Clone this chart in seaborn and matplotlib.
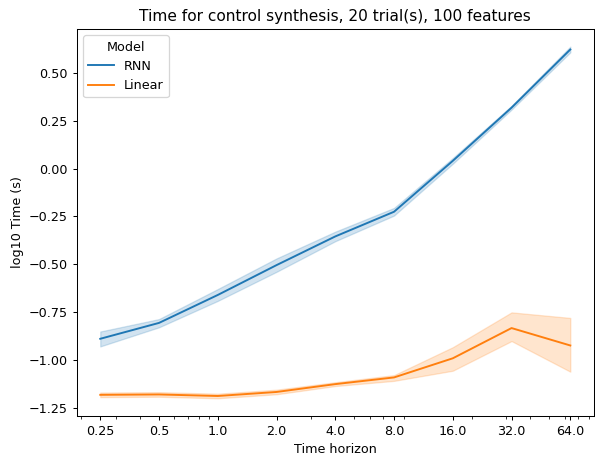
import matplotlib
matplotlib.use('Agg')
import matplotlib.pyplot as plt
from matplotlib.ticker import NullFormatter
import seaborn as sns
import pandas as pd
import numpy as np

# time horizons (x) and log10 run time per model: centre line and band edges
horizons = [0.25, 0.5, 1.0, 2.0, 4.0, 8.0, 16.0, 32.0, 64.0]

rnn_mid = [-0.890, -0.807, -0.661, -0.505, -0.355, -0.226, 0.040, 0.318, 0.622]
rnn_lo = [-0.930, -0.830, -0.692, -0.540, -0.380, -0.246, 0.025, 0.308, 0.607]
rnn_hi = [-0.852, -0.787, -0.630, -0.470, -0.330, -0.206, 0.055, 0.328, 0.637]

lin_mid = [-1.183, -1.181, -1.189, -1.168, -1.127, -1.092, -0.992, -0.834, -0.925]
lin_lo = [-1.195, -1.193, -1.201, -1.180, -1.137, -1.110, -1.057, -0.902, -1.062]
lin_hi = [-1.171, -1.169, -1.177, -1.156, -1.117, -1.080, -0.934, -0.752, -0.781]

models = ["RNN", "Linear"]

# one row per band edge + centre, so median = centre and the 100% interval = band
rows = []
for model, series in zip(models, [(rnn_lo, rnn_mid, rnn_hi), (lin_lo, lin_mid, lin_hi)]):
    for vals in series:
        for h, v in zip(horizons, vals):
            rows.append({"Time horizon": h, "log10 Time (s)": v, "Model": model})
df = pd.DataFrame(rows)

dpi = 92
fig, ax = plt.subplots(figsize=(595 / dpi, 454 / dpi), dpi=dpi)
fig.subplots_adjust(left=0.129, right=0.998, bottom=0.084, top=0.936)

sns.lineplot(data=df, x="Time horizon", y="log10 Time (s)", hue="Model",
             estimator="median", errorbar=("pi", 100), ax=ax)

ax.set_xscale('log')
ax.set_xticks(horizons)
ax.set_xticklabels([str(h) for h in horizons])
ax.xaxis.set_minor_formatter(NullFormatter())
ax.set_yticks([-1.25, -1.0, -0.75, -0.5, -0.25, 0.0, 0.25, 0.5])
ax.set_title("Time for control synthesis, 20 trial(s), 100 features")
ax.legend(title="Model", loc="upper left")

plt.savefig("out.png", dpi=dpi)
plt.close()
